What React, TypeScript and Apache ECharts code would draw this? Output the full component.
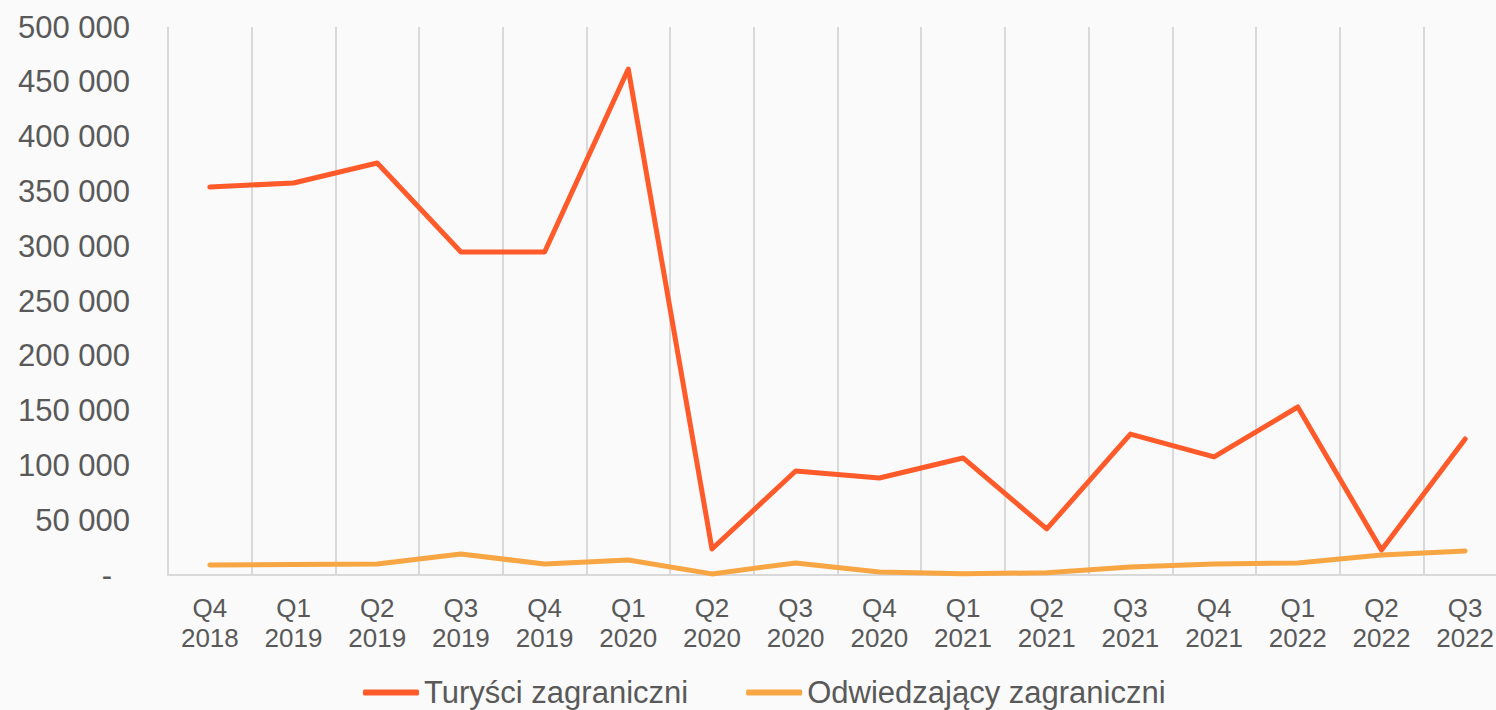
import React, { useEffect, useRef } from "react";
import * as echarts from "echarts";

const categories = [
  "Q4\n2018", "Q1\n2019", "Q2\n2019", "Q3\n2019", "Q4\n2019", "Q1\n2020", "Q2\n2020", "Q3\n2020",
  "Q4\n2020", "Q1\n2021", "Q2\n2021", "Q3\n2021", "Q4\n2021", "Q1\n2022", "Q2\n2022", "Q3\n2022",
];
const turysci = [
  354000, 357700, 375900, 294700, 294700, 461700, 23700, 94900,
  88500, 106800, 42000, 128600, 107700, 153300, 22800, 124100,
];
const odwiedzajacy = [
  9100, 9500, 10000, 19200, 10000, 13700, 1000, 11000,
  2700, 1200, 2000, 7300, 10000, 11000, 18200, 21900,
];
const seriesNames = ["Turyści zagraniczni", "Odwiedzający zagraniczni"];

const FONT = "Arial, 'Liberation Sans', sans-serif";
const TEXT = "#595959";

export default function App() {
  const ref = useRef<HTMLDivElement>(null);
  useEffect(() => {
    if (!ref.current) return;
    const chart = echarts.init(ref.current, undefined, { renderer: "svg" });
    chart.setOption({
      animation: false,
      backgroundColor: "#fafafa",
      textStyle: { fontFamily: FONT },
      grid: { left: 168, top: 27, width: 1339, height: 548 },
      legend: {
        left: 358,
        top: 672,
        itemWidth: 56,
        itemHeight: 6,
        itemGap: 58,
        icon: "roundRect",
        textStyle: { fontSize: 31, color: TEXT, fontFamily: FONT },
        data: seriesNames,
      },
      xAxis: {
        type: "category",
        data: categories,
        boundaryGap: true,
        axisLine: { show: true, lineStyle: { color: "#d9d9d9", width: 2 } },
        axisTick: { show: false },
        axisLabel: {
          fontSize: 26,
          lineHeight: 30,
          color: TEXT,
          margin: 18,
          fontFamily: FONT,
          interval: 0,
        },
        splitLine: { show: true, interval: 0, lineStyle: { color: "#d9d9d9", width: 2 } },
      },
      yAxis: {
        type: "value",
        min: 0,
        max: 500000,
        interval: 50000,
        axisLine: { show: false },
        axisTick: { show: false },
        splitLine: { show: false },
        axisLabel: {
          fontSize: 31,
          color: TEXT,
          margin: 38,
          fontFamily: FONT,
          formatter: (v: number) =>
            v === 0 ? "{z|-}" : String(v).replace(/\B(?=(\d{3})+(?!\d))/g, " "),
          rich: { z: { fontSize: 31, color: TEXT, padding: [0, 18, 0, 0], fontFamily: FONT } },
        },
      },
      series: [
        {
          name: seriesNames[0],
          type: "line",
          data: turysci,
          symbol: "none",
          lineStyle: { color: "#FF5A2A", width: 5, cap: "round", join: "round" },
          itemStyle: { color: "#FF5A2A" },
        },
        {
          name: seriesNames[1],
          type: "line",
          data: odwiedzajacy,
          symbol: "none",
          lineStyle: { color: "#F7A643", width: 5, cap: "round", join: "round" },
          itemStyle: { color: "#F7A643" },
        },
      ],
    });
    return () => chart.dispose();
  }, []);
  return (
    <div
      style={{ position: "absolute", left: 0, top: 0, width: 1496, height: 710, overflow: "hidden", background: "#fafafa" }}
    >
      <div ref={ref} style={{ width: 1520, height: 710 }} />
    </div>
  );
}
